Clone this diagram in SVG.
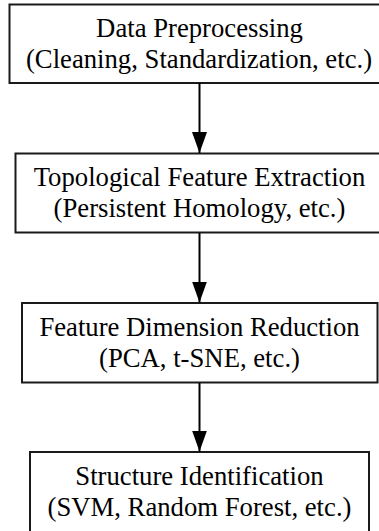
<svg xmlns="http://www.w3.org/2000/svg" width="379" height="531" viewBox="0 0 379 531">
  <defs>
    <style>
      .box { fill: #ffffff; stroke: #1a1a1a; stroke-width: 2; }
      .label { font-family: "Liberation Serif", "Times New Roman", serif; font-size: 26.7px; fill: #000000; text-anchor: middle; }
      .edge { stroke: #000000; stroke-width: 2; fill: none; marker-end: url(#arrow); }
    </style>
    <marker id="arrow" markerUnits="userSpaceOnUse" markerWidth="21" markerHeight="15" refX="21" refY="7.5" orient="auto">
      <path d="M0,0 L21,7.5 L0,15 z" fill="#000000"/>
    </marker>
  </defs>
  <rect width="379" height="531" fill="#ffffff"/>

  <!-- pipeline steps -->
  <g id="node-preprocessing">
    <rect class="box" x="9.5" y="4.5" width="380" height="78.5"/>
    <text class="label" x="199.5" y="37">Data Preprocessing</text>
    <text class="label" x="199" y="68">(Cleaning, Standardization, etc.)</text>
  </g>
  <g id="node-topological">
    <rect class="box" x="15.5" y="153.5" width="368" height="79"/>
    <text class="label" x="199.5" y="186">Topological Feature Extraction</text>
    <text class="label" x="199.5" y="217">(Persistent Homology, etc.)</text>
  </g>
  <g id="node-reduction">
    <rect class="box" x="22" y="303" width="355.5" height="79.5"/>
    <text class="label" x="199.5" y="335.5">Feature Dimension Reduction</text>
    <text class="label" x="199.5" y="366.5">(PCA, t-SNE, etc.)</text>
  </g>
  <g id="node-identification">
    <rect class="box" x="30" y="452" width="339" height="80"/>
    <text class="label" x="199.5" y="484.5">Structure Identification</text>
    <text class="label" x="199.5" y="515.5">(SVM, Random Forest, etc.)</text>
  </g>

  <!-- connectors -->
  <g id="edges">
    <line class="edge" x1="199.5" y1="83" x2="199.5" y2="153"/>
    <line class="edge" x1="199.5" y1="233" x2="199.5" y2="302.5"/>
    <line class="edge" x1="199.5" y1="383" x2="199.5" y2="451.5"/>
  </g>
</svg>
